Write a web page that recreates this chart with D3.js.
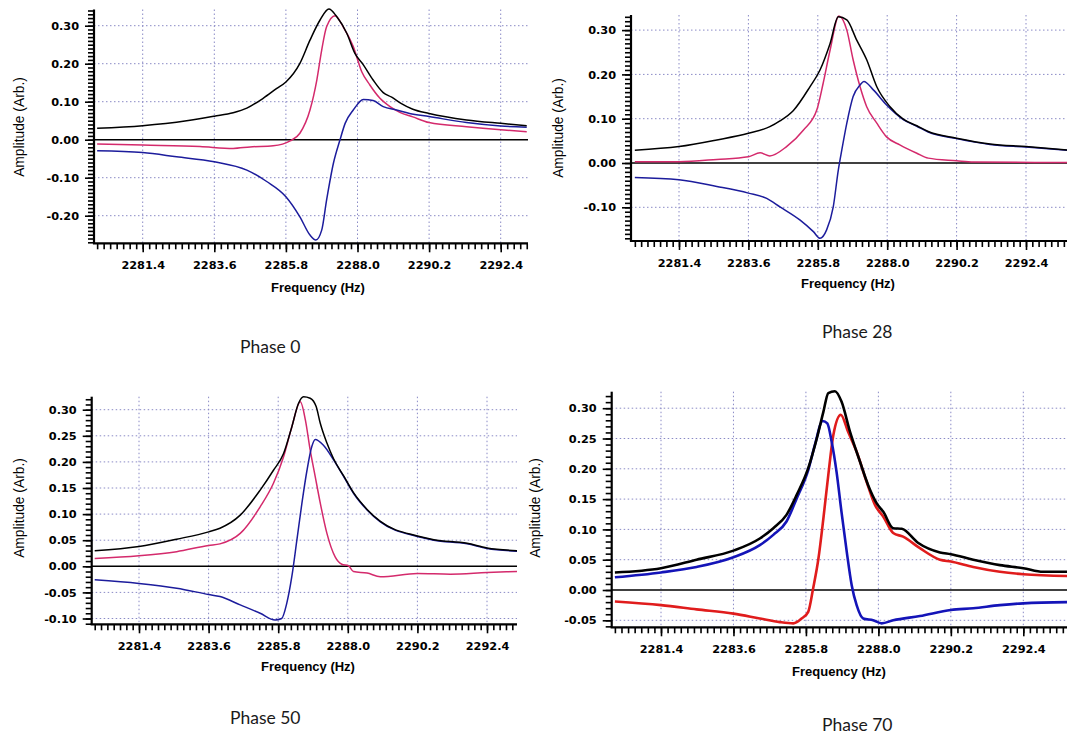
<!DOCTYPE html>
<html>
<head>
<meta charset="utf-8">
<script src="https://cdn.jsdelivr.net/npm/d3@7"></script>
<style>
  html, body { margin: 0; padding: 0; background: #fff; }
  svg { display: block; }
</style>
</head>
<body>
<svg id="chart" width="1067" height="744"></svg>
<script>
// ---------------- DATA ----------------
const captions = ["Phase 0", "Phase 28", "Phase 50", "Phase 70"];
const xTickValues = [2281.4, 2283.6, 2285.8, 2288.0, 2290.2, 2292.4];
const yTicksPhase0 = [-0.20, -0.10, 0.00, 0.10, 0.20, 0.30];
const yTicksPhase28 = [-0.10, 0.00, 0.10, 0.20, 0.30];
const yTicksPhase50 = [-0.10, -0.05, 0.00, 0.05, 0.10, 0.15, 0.20, 0.25, 0.30];
const yTicksPhase70 = [-0.05, 0.00, 0.05, 0.10, 0.15, 0.20, 0.25, 0.30];
const xTitle = "Frequency (Hz)";
const yTitle = "Amplitude (Arb.)";

// Phase 0  [frequency Hz, amplitude]
const phase0Magnitude = [[2280.0,0.030],[2281.4,0.037],[2282.75,0.050],[2283.6,0.062],[2284.18,0.071],[2284.6,0.083],[2285.1,0.109],[2285.52,0.135],[2285.8,0.152],[2286.23,0.201],[2286.54,0.262],[2286.85,0.315],[2287.12,0.344],[2287.36,0.324],[2287.67,0.280],[2287.92,0.227],[2288.18,0.197],[2288.48,0.157],[2288.79,0.124],[2289.05,0.112],[2289.35,0.095],[2289.7,0.080],[2290.2,0.069],[2291.35,0.052],[2292.4,0.043],[2293.2,0.037]];
const phase0InPhase = [[2280.0,-0.011],[2281.4,-0.014],[2283.16,-0.018],[2284.18,-0.023],[2284.7,-0.019],[2285.41,-0.016],[2285.93,-0.003],[2286.23,0.017],[2286.54,0.078],[2286.75,0.157],[2286.9,0.236],[2287.05,0.297],[2287.31,0.326],[2287.56,0.297],[2287.87,0.245],[2288.13,0.179],[2288.38,0.144],[2288.69,0.109],[2289.0,0.087],[2289.3,0.072],[2289.7,0.060],[2290.2,0.045],[2291.35,0.034],[2292.4,0.026],[2293.2,0.021]];
const phase0Quadrature = [[2280.0,-0.029],[2281.4,-0.034],[2282.44,-0.045],[2283.6,-0.058],[2284.6,-0.080],[2285.21,-0.110],[2285.8,-0.150],[2286.23,-0.203],[2286.54,-0.251],[2286.72,-0.264],[2286.9,-0.238],[2287.05,-0.159],[2287.26,-0.062],[2287.46,-0.001],[2287.62,0.043],[2287.87,0.078],[2288.18,0.106],[2288.48,0.103],[2288.79,0.087],[2289.2,0.078],[2289.6,0.069],[2290.2,0.061],[2291.35,0.045],[2292.4,0.036],[2293.2,0.033]];

// Phase 28
const phase28Magnitude = [[2280.0,0.029],[2281.4,0.037],[2282.6,0.052],[2283.6,0.067],[2284.28,0.082],[2284.6,0.095],[2285.02,0.118],[2285.55,0.172],[2285.87,0.210],[2286.19,0.270],[2286.45,0.330],[2286.72,0.323],[2287.03,0.278],[2287.35,0.233],[2287.67,0.172],[2288.09,0.127],[2288.51,0.099],[2288.94,0.084],[2289.3,0.071],[2290.2,0.056],[2291.26,0.043],[2292.4,0.037],[2293.8,0.029]];
const phase28InPhase = [[2280.0,0.003],[2281.4,0.003],[2282.6,0.008],[2283.6,0.014],[2283.97,0.023],[2284.28,0.016],[2284.81,0.037],[2285.34,0.074],[2285.77,0.120],[2285.97,0.180],[2286.19,0.255],[2286.47,0.332],[2286.72,0.300],[2286.92,0.233],[2287.14,0.172],[2287.35,0.127],[2287.67,0.090],[2287.98,0.059],[2288.4,0.041],[2288.94,0.022],[2289.3,0.011],[2290.2,0.005],[2290.73,0.002],[2293.8,0.001]];
const phase28Quadrature = [[2280.0,-0.033],[2281.4,-0.038],[2282.6,-0.053],[2283.6,-0.068],[2284.18,-0.080],[2284.6,-0.099],[2285.24,-0.129],[2285.66,-0.155],[2285.87,-0.170],[2286.08,-0.151],[2286.29,-0.099],[2286.45,-0.016],[2286.56,0.029],[2286.72,0.090],[2286.92,0.150],[2287.14,0.176],[2287.26,0.184],[2287.56,0.165],[2287.98,0.131],[2288.51,0.098],[2288.94,0.083],[2289.3,0.070],[2290.2,0.055],[2291.26,0.042],[2292.4,0.036],[2293.8,0.028]];

// Phase 50
const phase50Magnitude = [[2280.0,0.030],[2281.4,0.038],[2282.59,0.052],[2283.6,0.066],[2283.96,0.073],[2284.6,0.098],[2285.23,0.146],[2285.65,0.184],[2285.97,0.216],[2286.23,0.267],[2286.44,0.312],[2286.6,0.325],[2286.81,0.322],[2287.0,0.306],[2287.13,0.274],[2287.34,0.236],[2287.55,0.206],[2287.87,0.173],[2288.18,0.141],[2288.61,0.109],[2289.03,0.086],[2290.2,0.058],[2290.72,0.051],[2291.77,0.044],[2292.4,0.035],[2293.35,0.030]];
const phase50InPhase = [[2280.0,0.015],[2281.4,0.020],[2282.59,0.028],[2283.6,0.040],[2283.96,0.043],[2284.6,0.063],[2285.23,0.114],[2285.65,0.159],[2285.97,0.210],[2286.23,0.267],[2286.5,0.315],[2286.66,0.280],[2286.81,0.223],[2286.97,0.172],[2287.13,0.121],[2287.34,0.063],[2287.6,0.018],[2287.81,0.004],[2288.02,0.001],[2288.18,-0.010],[2288.61,-0.013],[2289.03,-0.020],[2290.2,-0.014],[2291.24,-0.015],[2292.4,-0.012],[2293.35,-0.010]];
const phase50Quadrature = [[2280.0,-0.026],[2281.4,-0.033],[2282.59,-0.042],[2283.6,-0.054],[2283.96,-0.058],[2284.6,-0.074],[2285.23,-0.090],[2285.7,-0.103],[2285.91,-0.100],[2286.07,-0.071],[2286.23,-0.020],[2286.39,0.050],[2286.55,0.121],[2286.71,0.184],[2286.86,0.229],[2286.97,0.243],[2287.23,0.232],[2287.55,0.204],[2287.87,0.172],[2288.18,0.140],[2288.61,0.108],[2289.03,0.085],[2290.2,0.057],[2290.72,0.050],[2291.77,0.043],[2292.4,0.034],[2293.35,0.029]];

// Phase 70
const phase70Magnitude = [[2280.0,0.029],[2281.4,0.036],[2282.48,0.050],[2283.6,0.065],[2284.4,0.085],[2284.81,0.102],[2285.21,0.124],[2285.52,0.157],[2285.87,0.201],[2286.13,0.250],[2286.33,0.294],[2286.48,0.325],[2286.68,0.328],[2286.88,0.311],[2287.14,0.261],[2287.44,0.212],[2287.69,0.173],[2287.95,0.143],[2288.15,0.129],[2288.45,0.102],[2288.71,0.101],[2289.2,0.078],[2289.87,0.062],[2290.2,0.059],[2290.88,0.050],[2291.69,0.041],[2292.4,0.036],[2293.0,0.030],[2293.8,0.030]];
const phase70InPhase = [[2280.0,-0.019],[2281.4,-0.025],[2282.48,-0.032],[2283.6,-0.039],[2284.4,-0.047],[2285.01,-0.053],[2285.42,-0.055],[2285.67,-0.047],[2285.87,-0.036],[2286.02,0.003],[2286.18,0.052],[2286.33,0.118],[2286.48,0.190],[2286.63,0.255],[2286.86,0.289],[2287.08,0.261],[2287.34,0.228],[2287.64,0.179],[2287.9,0.140],[2288.15,0.121],[2288.45,0.094],[2288.75,0.088],[2289.26,0.069],[2289.87,0.050],[2290.2,0.047],[2290.88,0.038],[2291.69,0.030],[2292.4,0.026],[2293.8,0.023]];
const phase70Quadrature = [[2280.0,0.021],[2281.4,0.029],[2282.48,0.038],[2283.6,0.054],[2284.4,0.074],[2284.81,0.091],[2285.21,0.113],[2285.52,0.151],[2285.87,0.198],[2286.07,0.239],[2286.31,0.279],[2286.45,0.275],[2286.58,0.245],[2286.73,0.195],[2286.88,0.129],[2287.04,0.063],[2287.19,0.008],[2287.34,-0.025],[2287.54,-0.047],[2287.84,-0.050],[2288.1,-0.055],[2288.45,-0.050],[2289.26,-0.043],[2290.2,-0.033],[2290.88,-0.030],[2291.69,-0.025],[2292.4,-0.022],[2293.8,-0.020]];

// ---------------- LAYOUT ----------------
const panels = [
  { caption: captions[0], left: 94, right: 528, top: 9.5, bottom: 243.3, xA: 142.7, xB: 500.7, y0: 139.7, yUnit: 380,
    yTicks: yTicksPhase0, series: [phase0Magnitude, phase0InPhase, phase0Quadrature],
    colors: ["#000000", "#d42a6c", "#1c1c9c"], width: 1.5,
    xTitle: [318, 292], yTitle: [18.5, 127], cap: [240, 353] },
  { caption: captions[1], left: 631, right: 1067, top: 15, bottom: 241, xA: 679, xB: 1026, y0: 163, yUnit: 443,
    yTicks: yTicksPhase28, series: [phase28Magnitude, phase28InPhase, phase28Quadrature],
    colors: ["#000000", "#d42a6c", "#1c1c9c"], width: 1.5,
    xTitle: [848, 288], yTitle: [557.5, 128], cap: [822, 338] },
  { caption: captions[2], left: 91.7, right: 517, top: 396.7, bottom: 624.3, xA: 139, xB: 487, y0: 566.3, yUnit: 522,
    yTicks: yTicksPhase50, series: [phase50Magnitude, phase50InPhase, phase50Quadrature],
    colors: ["#000000", "#d42a6c", "#1c1c9c"], width: 1.5,
    xTitle: [308, 671], yTitle: [18.5, 508], cap: [230, 724] },
  { caption: captions[3], left: 611.7, right: 1067, top: 391.7, bottom: 627.3, xA: 661, xB: 1023.3, y0: 590, yUnit: 606,
    yTicks: yTicksPhase70, series: [phase70Magnitude, phase70InPhase, phase70Quadrature],
    colors: ["#000000", "#e01c1c", "#1414b8"], width: 2.6,
    xTitle: [839, 676], yTitle: [535, 508], cap: [822, 731] }
];

const svg = d3.select("#chart");
const fmtY = d => d3.format(".2f")(Math.abs(d) < 1e-9 ? 0 : d).replace("\u2212", "-");
const fmtX = d => d3.format(".1f")(d);

panels.forEach((p, i) => {
  const x = d3.scaleLinear().domain([2281.4, 2292.4]).range([p.xA, p.xB]);
  const y = d3.scaleLinear().domain([0, 0.1]).range([p.y0, p.y0 - p.yUnit * 0.1]);
  const xMin = x.invert(p.left), xMax = x.invert(p.right);
  const yMin = y.invert(p.bottom), yMax = y.invert(p.top);
  const g = svg.append("g");

  const clipId = "clip" + i;
  svg.append("clipPath").attr("id", clipId).append("rect")
    .attr("x", p.left).attr("y", p.top - 2).attr("width", p.right - p.left).attr("height", p.bottom - p.top + 2);

  // grid
  const grid = g.append("g").attr("stroke", "#8a8ac6").attr("stroke-width", 1).attr("stroke-dasharray", "1.5,2.5");
  grid.selectAll(".vg").data(xTickValues).join("line")
    .attr("x1", d => x(d)).attr("x2", d => x(d)).attr("y1", p.top).attr("y2", p.bottom);
  grid.selectAll(".hg").data(p.yTicks.filter(d => Math.abs(d) > 1e-9)).join("line")
    .attr("x1", p.left).attr("x2", p.right).attr("y1", d => y(d)).attr("y2", d => y(d));

  // zero line
  g.append("line").attr("x1", p.left).attr("x2", p.right).attr("y1", y(0)).attr("y2", y(0))
    .attr("stroke", "#000").attr("stroke-width", 1.6);

  // series
  const line = d3.line().x(d => x(d[0])).y(d => y(d[1])).curve(d3.curveMonotoneX);
  const lg = g.append("g").attr("clip-path", `url(#${clipId})`);
  [1, 2, 0].forEach(k => {
    lg.append("path").datum(p.series[k]).attr("d", line)
      .attr("fill", "none").attr("stroke", p.colors[k]).attr("stroke-width", p.width)
      .attr("stroke-linejoin", "round");
  });

  // x axis
  const minorX = d3.range(Math.ceil((xMin - 2281.4) / 0.2), Math.floor((xMax - 2281.4) / 0.2) + 1).map(k => 2281.4 + k * 0.2);
  const xMinorAxis = d3.axisBottom(x).tickValues(minorX).tickSize(6).tickFormat("");
  const xMajorAxis = d3.axisBottom(x).tickValues(xTickValues).tickSize(9).tickPadding(9).tickFormat(fmtX);
  const gxm = g.append("g").attr("transform", `translate(0,${p.bottom})`).call(xMinorAxis);
  const gx = g.append("g").attr("transform", `translate(0,${p.bottom})`).call(xMajorAxis);
  [gxm, gx].forEach(a => { a.select(".domain").remove(); a.selectAll("line").attr("stroke", "#000").attr("stroke-width", 1.6); });
  gx.selectAll("text").attr("font-family", "DejaVu Sans").attr("font-weight", "bold").attr("font-size", 11.3).attr("fill", "#000");

  // y axis
  const minorY = d3.range(Math.ceil(yMin / 0.01 - 1e-6), Math.floor(yMax / 0.01 + 1e-6) + 1).map(k => k * 0.01);
  const yMinorAxis = d3.axisLeft(y).tickValues(minorY).tickSize(6).tickFormat("");
  const yMajorAxis = d3.axisLeft(y).tickValues(p.yTicks).tickSize(9).tickPadding(6).tickFormat(fmtY);
  const gym = g.append("g").attr("transform", `translate(${p.left},0)`).call(yMinorAxis);
  const gy = g.append("g").attr("transform", `translate(${p.left},0)`).call(yMajorAxis);
  [gym, gy].forEach(a => { a.select(".domain").remove(); a.selectAll("line").attr("stroke", "#000").attr("stroke-width", 1.6); });
  gy.selectAll("text").attr("font-family", "DejaVu Sans").attr("font-weight", "bold").attr("font-size", 11.3).attr("fill", "#000");

  // axis lines
  g.append("line").attr("x1", p.left).attr("x2", p.left).attr("y1", p.top).attr("y2", p.bottom)
    .attr("stroke", "#000").attr("stroke-width", 2.2);
  g.append("line").attr("x1", p.left - 1.1).attr("x2", p.right).attr("y1", p.bottom).attr("y2", p.bottom)
    .attr("stroke", "#000").attr("stroke-width", 2.2);

  // titles
  g.append("text").attr("x", p.xTitle[0]).attr("y", p.xTitle[1]).attr("text-anchor", "middle")
    .attr("font-family", "Liberation Sans, Arial").attr("font-weight", "bold").attr("font-size", 13)
    .text(xTitle);
  g.append("text").attr("transform", `translate(${p.yTitle[0] + 5},${p.yTitle[1]}) rotate(-90)`)
    .attr("text-anchor", "middle").attr("font-family", "Liberation Sans, Arial").attr("font-size", 13.8)
    .text(yTitle);

  // caption
  g.append("text").attr("x", p.cap[0]).attr("y", p.cap[1]).attr("font-family", "Lato")
    .attr("font-size", 17.5).attr("fill", "#1a1a1a").text(p.caption);
});
</script>
</body>
</html>
